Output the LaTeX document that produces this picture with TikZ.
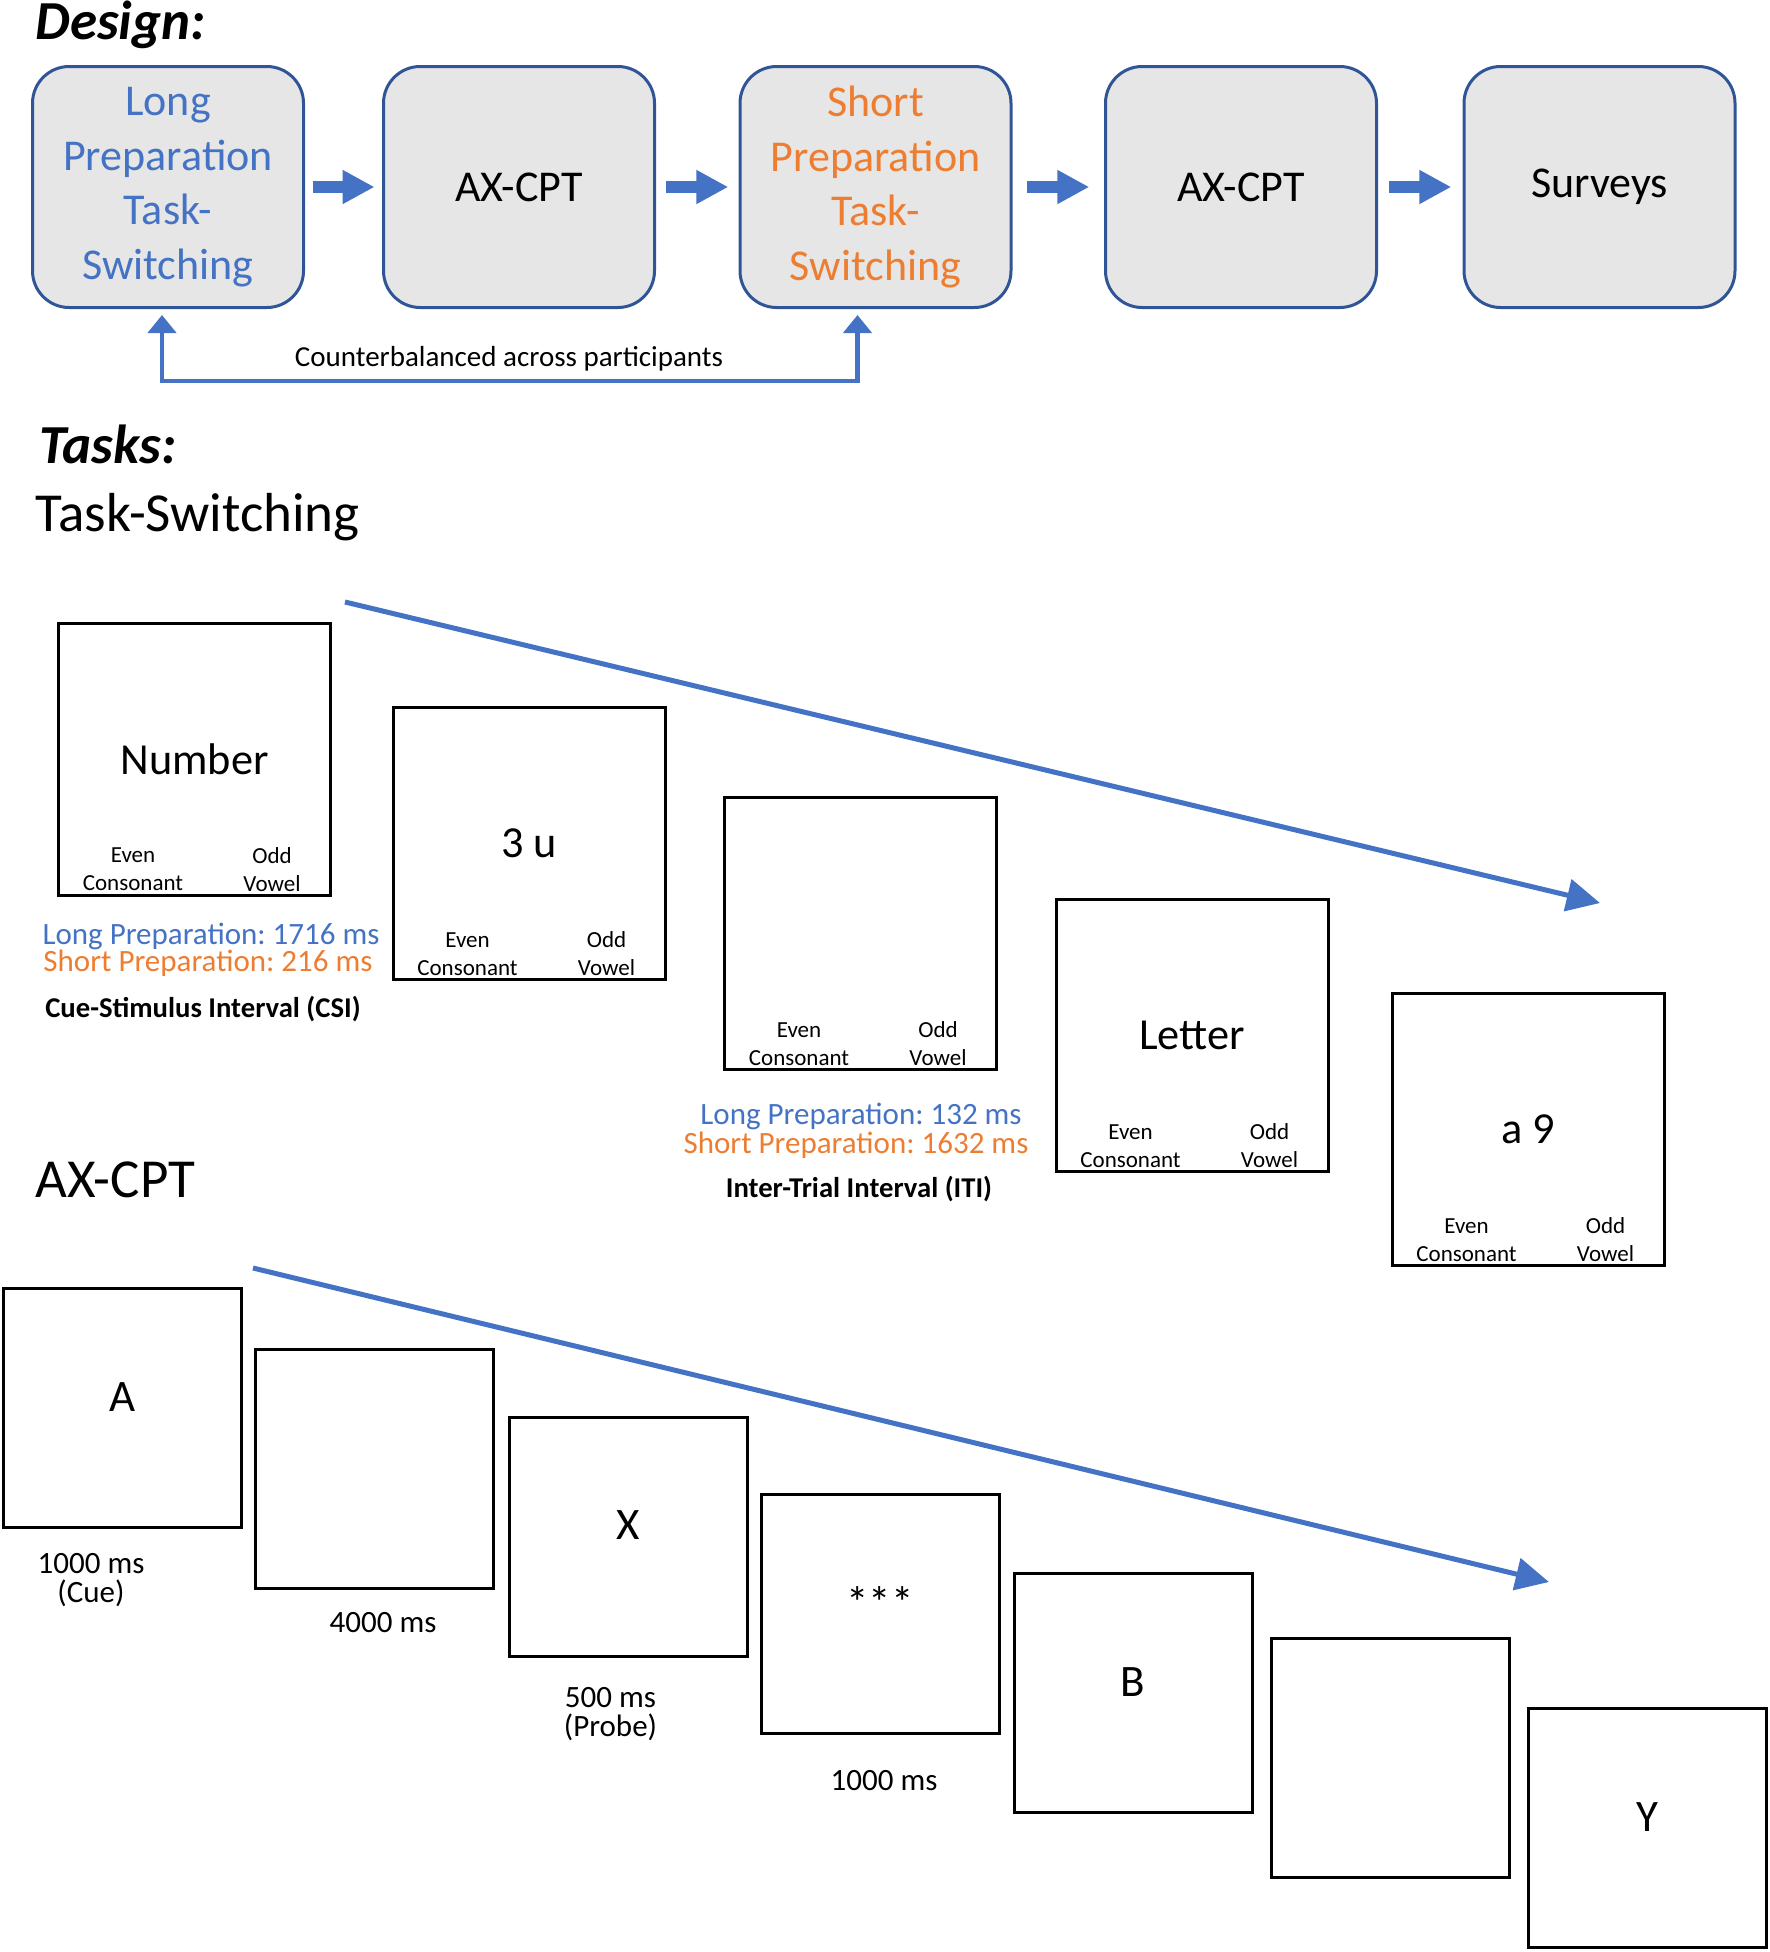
\documentclass[tikz,border=0pt]{standalone}
\usepackage{fontspec}
\setmainfont{Carlito}
\frenchspacing
\usepackage{xcolor}
\usepackage{tikz}
\usetikzlibrary{arrows.meta,calc}

\definecolor{tsblue}{HTML}{4472C4}
\definecolor{tsorange}{HTML}{ED7D31}
\definecolor{boxedge}{HTML}{2F5597}
\definecolor{boxgray}{HTML}{E6E6E6}

\tikzset{
  headbold/.style={font=\fontsize{16.5}{19}\selectfont\bfseries\itshape, inner sep=0pt, anchor=west},
  subhead/.style={font=\fontsize{16.5}{19}\selectfont, inner sep=0pt, anchor=west},
  phase/.style={draw=boxedge, line width=0.9pt, fill=boxgray, rounded corners=11pt,
    minimum width=81.3pt, minimum height=72.3pt, align=center, inner sep=1pt,
    font=\fontsize{13.2}{16.4}\selectfont},
  flow/.style={tsblue, line width=3.6pt, -{Triangle[length=9.6pt,width=9.6pt]}},
  cbarrow/.style={draw=tsblue, line width=1.4pt,
    {Triangle[length=5.4pt,width=8.4pt]}-{Triangle[length=5.4pt,width=8.4pt]}},
  cbtext/.style={font=\fontsize{8.7}{10}\selectfont, inner sep=0pt},
  tsscreen/.style={draw, line width=0.9pt, minimum size=81.6pt, inner sep=0pt,
    font=\fontsize{13.3}{16}\selectfont},
  axscreen/.style={draw, line width=0.9pt, minimum width=71.4pt, minimum height=71.7pt, inner sep=0pt},
  keytext/.style={align=center, inner sep=0pt, font=\fontsize{6.9}{8.4}\selectfont},
  longtxt/.style={text=tsblue, inner sep=0pt, font=\fontsize{9.3}{11}\selectfont},
  shorttxt/.style={text=tsorange, inner sep=0pt, font=\fontsize{9.3}{11}\selectfont},
  intlabel/.style={inner sep=0pt, font=\fontsize{8.6}{10}\selectfont\bfseries},
  mstext/.style={align=center, inner sep=0pt, font=\fontsize{9.3}{8.6}\selectfont},
  cuetext/.style={inner sep=0pt, font=\fontsize{13.5}{16}\selectfont},
  timeline/.style={draw=tsblue, line width=1.5pt, -{Triangle[length=10pt,width=9.6pt]}}
}

\begin{document}
\begin{tikzpicture}[x=0.3pt,y=-0.3pt]
\useasboundingbox (0,0) rectangle (1770,1952);

% design
\node[headbold] (design) at (35,25) {Design:};
\node[phase, text=tsblue] (b1) at (168,187) {Long\\Preparation\\Task-\\Switching};
\node[phase] (b2) at (519,187) {AX-CPT};
\node[phase, text=tsorange] (b3) at (875.5,187) {Short\\Preparation\\Task-\\Switching};
\node[phase] (b4) at (1241,187) {AX-CPT};
\node[phase] (b5) at (1599.5,187) {Surveys};
\foreach \a/\b in {b1/b2,b2/b3,b3/b4,b4/b5}
  \draw[flow] ($(\a.east)!0.5!(\b.west)+(-31,0)$) -- ++(62,0);

\coordinate (cbbase) at (509,381);
\draw[cbarrow] ($(b1.south)+(-6,6)$) |- (cbbase) -| ($(b3.south)+(-18,6)$);
\node[cbtext] (cbnote) at (509,359) {Counterbalanced across participants};

% tasks: task-switching
\node[headbold] (tasks) at (39,444) {Tasks:};
\node[subhead] (tshead) at (35,517) {Task-Switching};

\foreach \n/\x/\y/\cue in {1/194.5/759/Number, 2/529/843.5/3 u, 3/860.5/933.5/{},
    4/1192/1035.5/Letter, 5/1528/1129.5/a 9} {
  \node[tsscreen] (ts\n) at (\x,\y) {\cue};
  \node[keytext] (even\n) at ($(ts\n.south west)+(76,-27)$) {Even\\Consonant};
  \node[keytext] (odd\n) at ($(ts\n.south west)+(215,-27)$) {Odd\\Vowel};
}

\node[longtxt] (csilong) at (211,936) {Long Preparation: 1716 ms};
\node[shorttxt] (csishort) at (208,963) {Short Preparation: 216 ms};
\node[intlabel] (csi) at (203,1009) {Cue-Stimulus Interval (CSI)};
\node[longtxt] (itilong) at (861,1116) {Long Preparation: 132 ms};
\node[shorttxt] (itishort) at (856,1145) {Short Preparation: 1632 ms};
\node[intlabel] (iti) at (859,1189) {Inter-Trial Interval (ITI)};

\coordinate (tsstart) at (345,602);
\coordinate (tsend) at (1600,903);
\draw[timeline] (tsstart) -- (tsend);

% tasks: ax-cpt
\node[subhead] (axhead) at (35,1180) {AX-CPT};

\foreach \n/\x/\y/\cue in {1/122.5/1408/A, 2/374/1468.5/{}, 3/628.5/1536.5/X,
    4/880/1613.5/***, 5/1133/1693/B, 6/1390.5/1757.5/{}, 7/1647/1828/Y} {
  \node[axscreen] (ax\n) at (\x,\y) {};
  \node[cuetext] (cue\n) at ($(ax\n)+(0,-11)$) {\cue};
}

\node[mstext] (ms1) at (91,1580) {1000 ms\\(Cue)};
\node[mstext] (ms2) at (383,1623) {4000 ms};
\node[mstext] (ms3) at (610.5,1714) {500 ms\\(Probe)};
\node[mstext] (ms4) at (884,1781) {1000 ms};

\coordinate (axstart) at (253,1268);
\coordinate (axend) at (1549,1582);
\draw[timeline] (axstart) -- (axend);
\end{tikzpicture}
\end{document}
